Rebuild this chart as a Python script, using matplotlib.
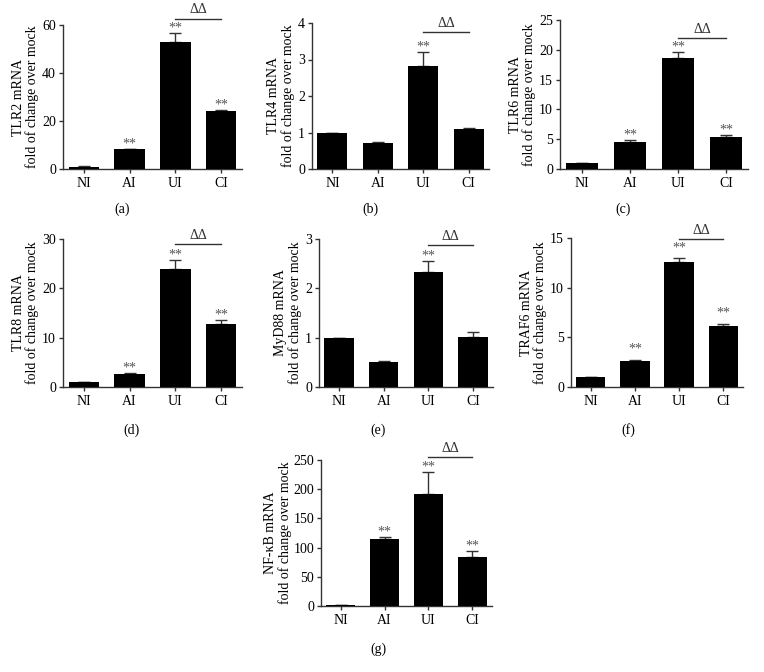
import matplotlib
matplotlib.use("Agg")
import matplotlib.pyplot as plt

plt.rcParams['font.family'] = ['Liberation Serif', 'DejaVu Serif']

groups = ["NI", "AI", "UI", "CI"]

tlr2_mean = [1.0, 8.2, 53.0, 24.3]
tlr2_err = [0.1, 0.3, 3.6, 0.3]
tlr4_mean = [1.0, 0.72, 2.81, 1.09]
tlr4_err = [0.0, 0.03, 0.39, 0.04]
tlr6_mean = [1.0, 4.5, 18.6, 5.4]
tlr6_err = [0.0, 0.35, 1.1, 0.3]
tlr8_mean = [1.0, 2.6, 23.9, 12.7]
tlr8_err = [0.0, 0.15, 1.9, 0.9]
myd88_mean = [1.0, 0.51, 2.34, 1.02]
myd88_err = [0.0, 0.02, 0.21, 0.1]
traf6_mean = [1.0, 2.62, 12.55, 6.1]
traf6_err = [0.0, 0.13, 0.4, 0.28]
nfkb_mean = [1.0, 114.5, 191.0, 84.0]
nfkb_err = [0.0, 4.0, 38.0, 9.5]

stars_a = [False, True, True, True]
stars_b = [False, False, True, False]
stars_c = [False, True, True, True]
stars_d = [False, True, True, True]
stars_e = [False, False, True, False]
stars_f = [False, True, True, True]
stars_g = [False, True, True, True]

W, H = 764, 672
fig = plt.figure(figsize=(W / 100, H / 100), dpi=100)

GRAY = "#555555"
FS = 10


def panel(px, ylabel, mean, err, stars, ymax, ystep, dd_frac, letter, letter_xy,
          star_off=1.0, labelpad=2):
    x0, x1, ytop, ybot = px
    ax = fig.add_axes([x0 / W, 1 - ybot / H, (x1 - x0) / W, (ybot - ytop) / H])
    xs = list(range(len(groups)))
    ax.bar(xs, mean, width=0.66, color="black", zorder=3)
    ax.errorbar(xs, mean, yerr=[[0] * len(err), err], fmt="none",
                ecolor="#333333", elinewidth=1.0, capsize=4, capthick=1.0, zorder=2)
    ax.set_xlim(-0.45, 3.45)
    ax.set_ylim(0, ymax)
    ticks = [i * ystep for i in range(int(round(ymax / ystep)) + 1)]
    ax.set_yticks(ticks)
    ax.set_yticklabels([str(int(t)) for t in ticks])
    ax.set_xticks(xs)
    ax.set_xticklabels(groups)
    for s in ["top", "right"]:
        ax.spines[s].set_visible(False)
    for s in ["left", "bottom"]:
        ax.spines[s].set_color("#333333")
        ax.spines[s].set_linewidth(1.0)
    ax.tick_params(axis="both", labelsize=FS, color="#333333", length=3, width=1.0)
    ax.tick_params(axis="y", pad=2)
    ax.tick_params(axis="x", pad=3)
    ax.set_ylabel(ylabel + "\nfold of change over mock", fontsize=FS, linespacing=1.1,
                  labelpad=labelpad)
    for i, st in enumerate(stars):
        if st:
            top = mean[i] + err[i]
            ax.annotate("**", (i, top), xytext=(0, star_off), textcoords="offset points",
                        ha="center", va="baseline", fontsize=FS, color=GRAY,
                        annotation_clip=False)
    dd_y = ymax * dd_frac
    ax.plot([2, 3], [dd_y, dd_y], color="#333333", lw=1.0, clip_on=False)
    ax.annotate("ΔΔ", (2.5, dd_y), xytext=(0, 1.5), textcoords="offset points",
                ha="center", va="bottom", fontsize=FS, color="#333333",
                annotation_clip=False)
    fig.text(letter_xy[0] / W, 1 - letter_xy[1] / H, letter, ha="center", va="center",
             fontsize=FS)
    return ax


panel((63, 242, 25, 169), "TLR2 mRNA", tlr2_mean, tlr2_err, stars_a, 60, 20, 1.045,
      "(a)", (122, 209))
panel((312, 489, 23, 169), "TLR4 mRNA", tlr4_mean, tlr4_err, stars_b, 4, 1, 0.935,
      "(b)", (370, 209))
panel((560, 748, 20, 169), "TLR6 mRNA", tlr6_mean, tlr6_err, stars_c, 25, 5, 0.88,
      "(c)", (623, 209))
panel((63, 242, 239, 387), "TLR8 mRNA", tlr8_mean, tlr8_err, stars_d, 30, 10, 0.967,
      "(d)", (132, 430))
panel((319, 493, 239, 387), "MyD88 mRNA", myd88_mean, myd88_err, stars_e, 3, 1, 0.96,
      "(e)", (378, 430))
panel((571, 743, 238, 387), "TRAF6 mRNA", traf6_mean, traf6_err, stars_f, 15, 5, 0.993,
      "(f)", (628, 430), star_off=5.0)
panel((321, 492, 460, 606), "NF-κB mRNA", nfkb_mean, nfkb_err, stars_g, 250, 50, 1.018,
      "(g)", (378, 649), labelpad=1)

fig.savefig("out.png", dpi=100)
